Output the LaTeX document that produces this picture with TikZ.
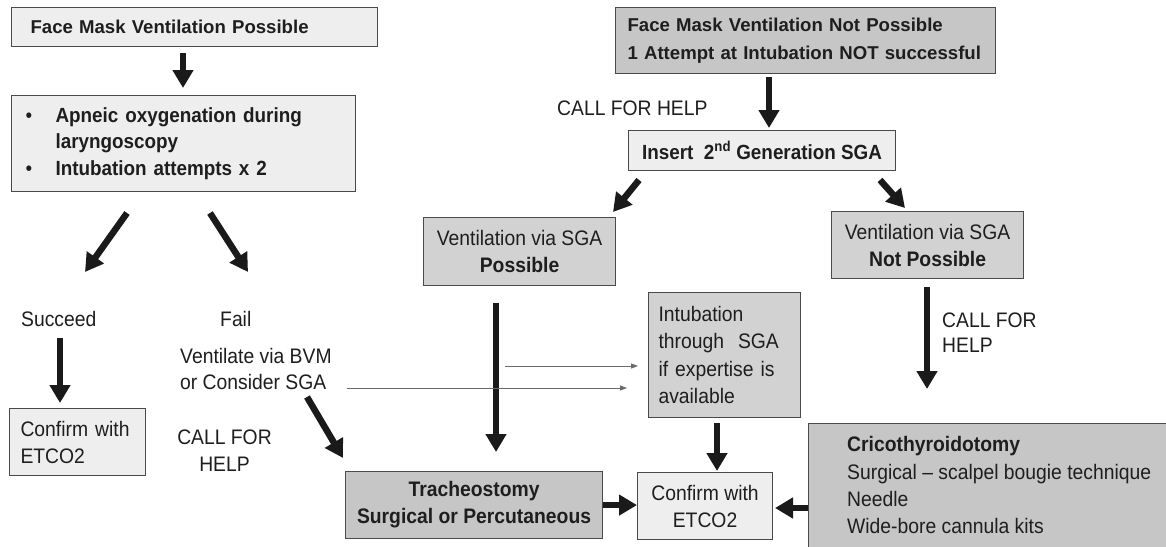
\documentclass[tikz,border=0pt]{standalone}
\usepackage{fontspec}
\setmainfont{Liberation Sans}[FakeStretch=0.92]
\newfontfamily\topf{Liberation Sans}
\usetikzlibrary{arrows.meta}
\definecolor{lightc}{HTML}{EEEEEE}
\definecolor{midc}{HTML}{D2D2D2}
\definecolor{darkc}{HTML}{C6C6C6}
\definecolor{bordc}{HTML}{4A4A4A}
\definecolor{txtc}{HTML}{1E1E1E}
\definecolor{arrc}{HTML}{1A1A1A}
\definecolor{thinc}{HTML}{6A6A6A}
\newcommand\regf{\fontsize{21}{27}\selectfont}
\begin{document}
\begin{tikzpicture}[x=1pt,y=-1pt,
  box/.style={draw=bordc,line width=1.1pt,inner sep=0pt,anchor=north west,text=txtc},
  fl/.style={fill=lightc}, fm/.style={fill=midc}, fd/.style={fill=darkc},
  bigarrow/.style={draw=arrc,line width=6.5pt,-{Triangle[width=20pt,length=18pt]}},
  thinarrow/.style={draw=thinc,line width=0.9pt,-{Triangle[width=5pt,length=7pt]}},
  lbl/.style={inner sep=0pt,text=txtc,font=\regf}]
\useasboundingbox (0,0) rectangle (1166,546);
\fill[white] (0,0) rectangle (1166,546);

% boxes
\node[box,fl,minimum height=39pt,text width=328pt,inner xsep=19pt,align=left,
  font=\topf\bfseries\fontsize{18.6}{22}\selectfont] (fmvp) at (11,7) {Face Mask Ventilation Possible};
\node[box,fl,minimum height=96pt,text width=316pt,inner xsep=14pt,align=left,
  font=\bfseries\fontsize{20.5}{26.5}\selectfont] (bul) at (11,95)
  {\makebox[30pt][l]{\mdseries\textbullet}Apneic oxygenation during\\\hspace*{30pt}laryngoscopy\\\makebox[30pt][l]{\mdseries\textbullet}Intubation attempts x 2\rule[-4pt]{0pt}{1pt}};
\node[box,fd,minimum height=66pt,text width=356pt,inner xsep=12pt,align=left,
  font=\topf\bfseries\fontsize{18.6}{28}\selectfont] (fmvnp) at (615,7)
  {Face Mask Ventilation Not Possible\\1 Attempt at Intubation NOT successful};
\node[box,fl,minimum width=267pt,minimum height=40pt,font=\bfseries\fontsize{20.5}{24}\selectfont] (ins) at (628,130)
  {Insert\ \ 2\textsuperscript{nd} Generation SGA};
\node[box,fm,minimum width=192pt,minimum height=68pt,align=center,font=\regf] (vsp) at (423,217)
  {Ventilation via SGA\\\textbf{Possible}};
\node[box,fm,minimum width=192pt,minimum height=67pt,align=center,font=\regf] (vsnp) at (831,211)
  {Ventilation via SGA\\\textbf{Not Possible}};
\node[box,fm,minimum height=125pt,text width=132pt,inner xsep=10pt,align=left,
  font=\fontsize{21}{27.5}\selectfont] (intub) at (648,292)
  {Intubation\\through\ \ SGA\\if expertise is\\available};
\node[box,fl,minimum width=135pt,minimum height=67pt,align=center,font=\regf] (conf) at (637,472)
  {Confirm with\\ETCO2};
\node[box,fd,minimum width=257pt,minimum height=67pt,align=center,font=\bfseries\fontsize{21}{27}\selectfont] (trach) at (345,471)
  {Tracheostomy\\Surgical or Percutaneous};
\node[box,fd,minimum width=370pt,minimum height=135pt] (crico) at (808,423) {};
\node[lbl,anchor=north west,align=left,font=\fontsize{21}{27.3}\selectfont] (cricot) at (847,436.5)
  {\textbf{Cricothyroidotomy}\\Surgical -- scalpel bougie technique\\Needle\\Wide-bore cannula kits};
\node[box,fl,minimum height=67pt,text width=114pt,inner xsep=11pt,align=left,font=\regf] (confl) at (9,408)
  {Confirm with\\ETCO2};

% free labels
\node[lbl,anchor=base west] (help1) at (557,115) {CALL FOR HELP};
\node[lbl,anchor=base west] (succ) at (21,326) {Succeed};
\node[lbl,anchor=base west] (fail) at (220,326) {Fail};
\node[lbl,anchor=north west,align=left,font=\fontsize{21}{26.5}\selectfont] (vent) at (180,347.7)
  {Ventilate via BVM\\or Consider SGA};
\node[lbl,anchor=north,align=center] (help2) at (224.5,430) {CALL FOR\\HELP};
\node[lbl,anchor=north west,align=left,font=\fontsize{21}{25}\selectfont] (help3) at (942,313) {CALL FOR\\HELP};

% arrow end points
\coordinate (a1s) at (183,53);  \coordinate (a1e) at (183,88);
\coordinate (a2s) at (127,213); \coordinate (a2e) at (85,272);
\coordinate (a3s) at (210,213); \coordinate (a3e) at (248,272);
\coordinate (a4s) at (60,338);  \coordinate (a4e) at (60,403);
\coordinate (a5s) at (307,397); \coordinate (a5e) at (343,458);
\coordinate (a6s) at (769,77);  \coordinate (a6e) at (769,128);
\coordinate (a7s) at (639,180); \coordinate (a7e) at (613,212);
\coordinate (a8s) at (880,180); \coordinate (a8e) at (905,208);
\coordinate (a9s) at (496,303); \coordinate (a9e) at (496,452);
\coordinate (a10s) at (717,423); \coordinate (a10e) at (717,471);
\coordinate (a12s) at (808,508); \coordinate (a12e) at (775,508);
\coordinate (a13s) at (927,287); \coordinate (a13e) at (927,389);
\coordinate (t1s) at (505,366); \coordinate (t1e) at (638,366);
\coordinate (t2s) at (347,388); \coordinate (t2e) at (627,388);

\draw[bigarrow] (a1s) -- (a1e);
\draw[bigarrow] (a2s) -- (a2e);
\draw[bigarrow] (a3s) -- (a3e);
\draw[bigarrow] (a4s) -- (a4e);
\draw[bigarrow] (a5s) -- (a5e);
\draw[bigarrow] (a6s) -- (a6e);
\draw[bigarrow] (a7s) -- (a7e);
\draw[bigarrow] (a8s) -- (a8e);
\draw[bigarrow] (a9s) -- (a9e);
\draw[bigarrow] (a10s) -- (a10e);
\draw[bigarrow] (trach.east) -- (trach.east -| conf.west);
\draw[bigarrow] (a12s) -- (a12e);
\draw[bigarrow] (a13s) -- (a13e);
\draw[thinarrow] (t1s) -- (t1e);
\draw[thinarrow] (t2s) -- (t2e);
\end{tikzpicture}
\end{document}
